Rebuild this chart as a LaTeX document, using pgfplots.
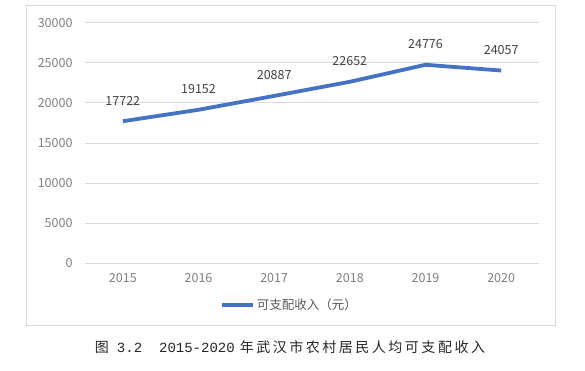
\documentclass[border=0pt]{standalone}
\usepackage{pgfplots}
\pgfplotsset{compat=1.18}
\usepackage{fontspec}
\setmainfont{Noto Sans CJK SC}
\newfontfamily\cjk{Noto Sans CJK SC}
\newfontfamily\mono{Liberation Mono}
\definecolor{lineblue}{HTML}{4472C4}
\definecolor{gridc}{HTML}{D9D9D9}
\definecolor{tickc}{HTML}{7F7F7F}
\definecolor{labc}{HTML}{404040}
\definecolor{legc}{HTML}{595959}
\begin{document}
\begin{tikzpicture}[x=1bp,y=1bp]
\path[use as bounding box] (0,0) rectangle (585,370);
\draw[gridc, line width=1bp] (26,45) rectangle (555,364);
\begin{axis}[
  at={(85bp,107bp)}, anchor=south west, scale only axis,
  width=454bp, height=240bp,
  xmin=-0.5, xmax=5.5, ymin=0, ymax=30000,
  xtick={0,1,2,3,4,5}, xticklabels={2015,2016,2017,2018,2019,2020},
  ytick={0,5000,10000,15000,20000,25000,30000},
  axis line style={draw=none}, major tick length=0pt,
  ymajorgrids, grid style={gridc, line width=1bp},
  tick label style={font=\fontsize{12.5bp}{14bp}\selectfont, text=tickc},
  /pgf/number format/assume math mode=true,
  /pgf/number format/1000 sep={},
  scaled y ticks=false,
  yticklabel style={xshift=-9bp},
  xticklabel style={yshift=-7bp},
  legend style={at={(0.4504,-0.175)}, anchor=center, draw=none, fill=none,
    font=\fontsize{12.5bp}{14bp}\selectfont, text=legc, inner sep=0pt,
    /tikz/every even column/.style={column sep=0pt}},
  legend cell align=left,
  legend image code/.code={\draw[#1] (0bp,0bp) -- (31bp,0bp);},
  clip=false,
]
\addplot[lineblue, line width=3.8bp, no marks,
  point meta=explicit symbolic,
  nodes near coords,
  every node near coord/.append style={anchor=south, inner sep=0pt, yshift=14bp,
    font=\fontsize{12.5bp}{14bp}\selectfont, text=labc}]
  coordinates {(0,17722)[17722] (1,19152)[19152] (2,20887)[20887] (3,22652)[22652] (4,24776)[24776] (5,24057)[24057]};
\addlegendentry{可支配收入（元）}
\end{axis}
\node[anchor=center, inner sep=0pt, text=black!85] at (290,23) {%
  {\fontsize{14bp}{16bp}\selectfont\cjk 图}\hspace{8bp}%
  {\fontsize{14bp}{16bp}\selectfont\mono 3.2}\hspace{17bp}%
  {\fontsize{14bp}{16bp}\selectfont\mono 2015-2020}\hspace{5bp}%
  {\fontsize{14bp}{16bp}\selectfont\cjk\addfontfeature{LetterSpace=18}年武汉市农村居民人均可支配收入}};
\end{tikzpicture}
\end{document}
